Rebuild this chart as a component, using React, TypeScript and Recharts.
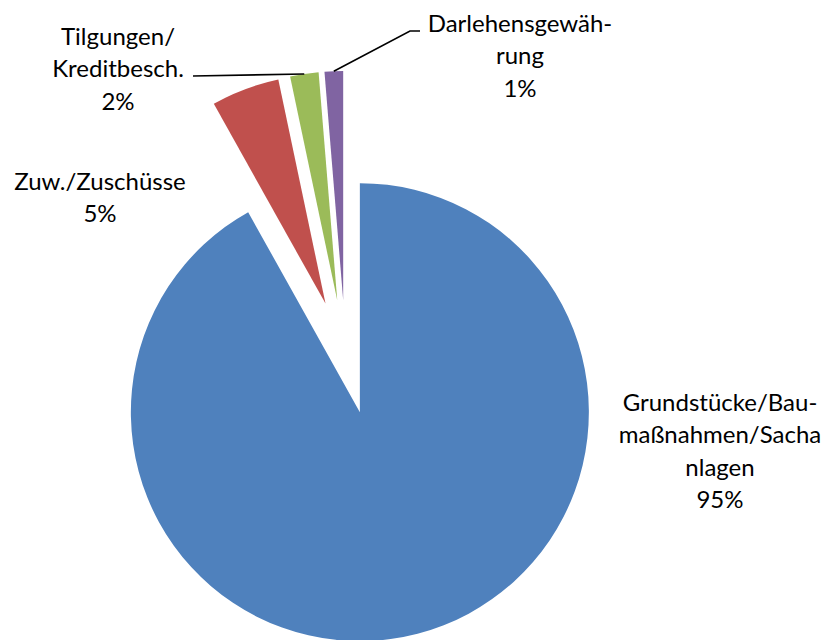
import React from "react";
import { PieChart, Pie, Cell, Sector } from "recharts";

// ---- data ----
const categories = [
  "Grundstücke/Baumaßnahmen/Sachanlagen",
  "Zuw./Zuschüsse",
  "Tilgungen/Kreditbesch.",
  "Darlehensgewährung",
];
const values = [91.8, 4.8, 2.0, 1.3];
const percentLabels = ["95%", "5%", "2%", "1%"];
const labelLines = [
  ["Grundstücke/Bau-", "maßnahmen/Sacha", "nlagen"],
  ["Zuw./Zuschüsse"],
  ["Tilgungen/", "Kreditbesch."],
  ["Darlehensgewäh-", "rung"],
];

// ---- styles / layout ----
const colors = ["#4F81BD", "#C0504D", "#9BBB59", "#8064A2"];
const EXPLODE = 57;
const RAD = Math.PI / 180;
const FONT = "Lato, 'Liberation Sans', sans-serif";
const FONT_SIZE = 24;
const LINE_H = 32.5;
// label block placement (center x, center y of first line), optional leader path points
const labelLayout: { x: number; y: number; leader?: [number, number][] }[] = [
  { x: 720, y: 401 },
  { x: 100, y: 180 },
  { x: 118, y: 35, leader: [[193, 76]] },
  { x: 520, y: 22, leader: [[420, 31], [410, 31]] },
];

const data = categories.map((name, i) => ({ name, value: values[i] }));

const ExplodedSector = (props: any) => {
  const { cx, cy, midAngle } = props;
  const dx = EXPLODE * Math.cos(-midAngle * RAD);
  const dy = EXPLODE * Math.sin(-midAngle * RAD);
  return <Sector {...props} cx={cx + dx} cy={cy + dy} stroke="none" />;
};

const renderLabel = (props: any) => {
  const { cx, cy, midAngle, outerRadius, index } = props;
  const lay = labelLayout[index];
  const lines = [...labelLines[index], percentLabels[index]];
  const ux = Math.cos(-midAngle * RAD);
  const uy = Math.sin(-midAngle * RAD);
  const ax = cx + (outerRadius + EXPLODE) * ux;
  const ay = cy + (outerRadius + EXPLODE) * uy;
  let path: string | null = null;
  if (lay.leader) {
    const pts = [...lay.leader, [ax, ay]];
    path = pts.map((p, k) => `${k === 0 ? "M" : "L"}${p[0]},${p[1]}`).join(" ");
  }
  return (
    <g key={`lbl-${index}`}>
      {path && <path d={path} stroke="#000" strokeWidth={1.6} fill="none" />}
      {lines.map((t, k) => (
        <text
          key={k}
          x={lay.x}
          y={lay.y + k * LINE_H}
          textAnchor="middle"
          dominantBaseline="central"
          fontFamily={FONT}
          fontSize={FONT_SIZE}
          fill="#000"
        >
          {t}
        </text>
      ))}
    </g>
  );
};

export default function App() {
  return (
    <div style={{ position: "absolute", left: 0, top: 0, width: 832, height: 640, background: "#fff" }}>
      <PieChart width={832} height={640} margin={{ top: 0, right: 0, bottom: 0, left: 0 }}>
        <Pie
          data={data}
          dataKey="value"
          nameKey="name"
          cx={345.5}
          cy={357}
          outerRadius={229}
          startAngle={90}
          endAngle={-270}
          stroke="none"
          isAnimationActive={false}
          shape={ExplodedSector}
          activeShape={ExplodedSector}
          label={renderLabel}
          labelLine={false}
        >
          {data.map((d, i) => (
            <Cell key={d.name} fill={colors[i]} />
          ))}
        </Pie>
      </PieChart>
    </div>
  );
}
